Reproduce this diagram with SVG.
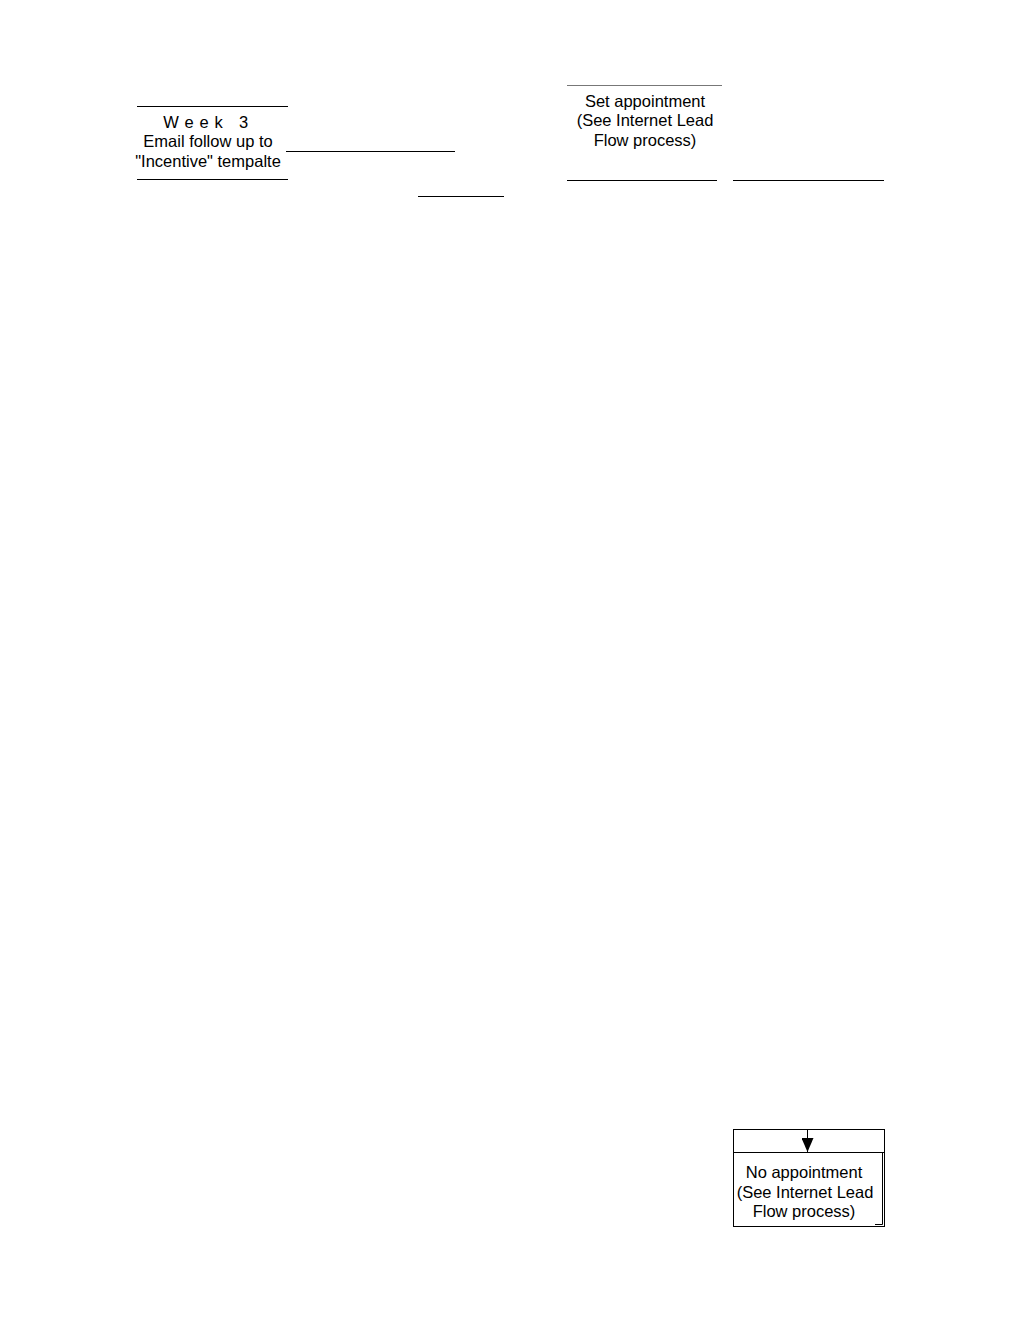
<svg xmlns="http://www.w3.org/2000/svg" width="1024" height="1326" viewBox="0 0 1024 1326">
<style>
text{font-family:"Liberation Sans",Arial,sans-serif;font-size:16.5px;fill:#000;text-anchor:middle}
.ln{stroke:#000;stroke-width:1;fill:none}
.gl{stroke:#777;stroke-width:1;fill:none}
</style>
<defs>
<marker id="ah" markerWidth="14" markerHeight="12" refX="14" refY="6" orient="auto" markerUnits="userSpaceOnUse" viewBox="0 0 14 12">
<path d="M0,0 L14,6 L0,12 Z" fill="#000"/>
</marker>
</defs>
<rect width="1024" height="1326" fill="#fff"/>
<g id="week3">
<line class="ln" x1="137" y1="106.5" x2="288" y2="106.5"/>
<line class="ln" x1="137" y1="179.5" x2="288" y2="179.5"/>
<text x="206" y="128" xml:space="preserve" letter-spacing="0.6">W e e k   3</text>
<text x="208" y="147">Email follow up to</text>
<text x="208" y="167">"Incentive" tempalte</text>
</g>
<g id="set-appointment">
<line class="gl" x1="567" y1="85.5" x2="722" y2="85.5"/>
<line class="ln" x1="567" y1="180.5" x2="717" y2="180.5"/>
<text x="645" y="107">Set appointment</text>
<text x="645" y="126">(See Internet Lead</text>
<text x="645" y="146">Flow process)</text>
</g>
<g id="no-appointment">
<rect class="ln" x="733.5" y="1129.5" width="151" height="97" stroke="#444"/>
<line class="ln" x1="733.5" y1="1152.5" x2="884" y2="1152.5"/>
<polyline class="ln" points="882.5,1152.5 882.5,1224.5 875,1224.5" stroke="#444"/>
<text x="804" y="1178">No appointment</text>
<text x="805" y="1198">(See Internet Lead</text>
<text x="804" y="1217">Flow process)</text>
</g>
<g id="connectors">
<line class="ln" x1="286" y1="151.5" x2="455" y2="151.5"/>
<line class="ln" x1="418" y1="196.5" x2="504" y2="196.5"/>
<line class="ln" x1="733" y1="180.5" x2="884" y2="180.5"/>
<line class="ln" x1="807.5" y1="1130" x2="807.5" y2="1152" marker-end="url(#ah)"/>
</g>
</svg>
